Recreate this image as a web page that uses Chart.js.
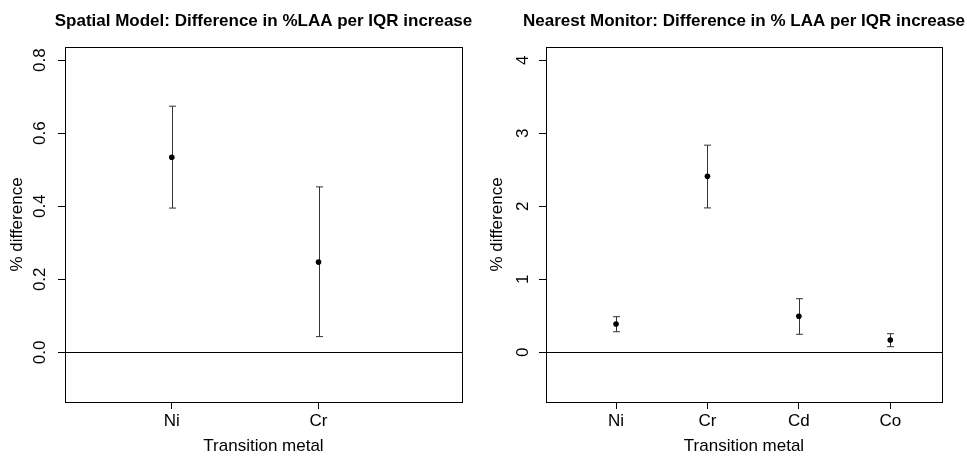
<!DOCTYPE html>
<html>
<head>
<meta charset="utf-8">
<script src="https://cdn.jsdelivr.net/npm/chart.js@4/dist/chart.umd.min.js"></script>
<style>
  html, body { margin: 0; padding: 0; background: #fff; }
  #wrap { position: relative; width: 967px; height: 457px; }
  canvas { position: absolute; top: 0; }
</style>
</head>
<body>
<div id="wrap">
  <canvas id="spatial" width="483" height="457" style="left:0"></canvas>
  <canvas id="monitor" width="484" height="457" style="left:483px"></canvas>
</div>
<script>
// Spatial model panel
const spatialMetals = ['Ni', 'Cr'];
const spatialEst = [0.534, 0.247];
const spatialLower = [0.395, 0.043];
const spatialUpper = [0.674, 0.453];
const spatialYTicks = [0, 0.2, 0.4, 0.6, 0.8];

// Nearest monitor panel
const monitorMetals = ['Ni', 'Cr', 'Cd', 'Co'];
const monitorEst = [0.388, 2.41, 0.493, 0.168];
const monitorLower = [0.282, 1.977, 0.247, 0.077];
const monitorUpper = [0.488, 2.836, 0.734, 0.255];
const monitorYTicks = [0, 1, 2, 3, 4];

const FONT = "'Liberation Sans', Arial, Helvetica, sans-serif";
Chart.defaults.font.family = FONT;
Chart.defaults.font.size = 17;
Chart.defaults.color = '#000';

// error bars with small caps, drawn under the points
const errorBars = {
  id: 'errorBars',
  beforeDatasetsDraw(chart, args, opts) {
    const { ctx, scales: { x, y } } = chart;
    ctx.save();
    ctx.strokeStyle = '#333';
    ctx.lineWidth = 1;
    opts.lower.forEach((lo, i) => {
      const px = Math.round(x.getPixelForValue(i + 1)) + 0.5;
      const y1 = y.getPixelForValue(lo);
      const y2 = y.getPixelForValue(opts.upper[i]);
      ctx.beginPath();
      ctx.moveTo(px, y1);
      ctx.lineTo(px, y2);
      ctx.moveTo(px - 3.5, y1);
      ctx.lineTo(px + 3.5, y1);
      ctx.moveTo(px - 3.5, y2);
      ctx.lineTo(px + 3.5, y2);
      ctx.stroke();
    });
    ctx.restore();
  }
};

// R-style box, zero reference line and panel title
const frame = {
  id: 'frame',
  afterDraw(chart, args, opts) {
    const { ctx, chartArea: a, scales: { y } } = chart;
    ctx.save();
    ctx.strokeStyle = '#000';
    ctx.lineWidth = 1;
    const y0 = Math.round(y.getPixelForValue(0)) + 0.5;
    ctx.beginPath();
    ctx.moveTo(a.left, y0);
    ctx.lineTo(a.right, y0);
    ctx.stroke();
    ctx.strokeRect(Math.round(a.left) + 0.5, Math.round(a.top) + 0.5,
      Math.round(a.right - a.left), Math.round(a.bottom - a.top));
    ctx.fillStyle = '#000';
    ctx.font = 'bold 17px ' + FONT;
    ctx.textAlign = 'center';
    ctx.textBaseline = 'middle';
    ctx.fillText(opts.text, (a.left + a.right) / 2, 21);
    ctx.restore();
  }
};

function makePanel(id, title, metals, est, lower, upper, yTicks, cfg) {
  const points = est.map((v, i) => ({ x: i + 1, y: v }));
  return new Chart(document.getElementById(id), {
    type: 'scatter',
    data: {
      datasets: [{
        data: points,
        pointRadius: 2.8,
        pointHoverRadius: 2.8,
        backgroundColor: '#000',
        borderWidth: 0
      }]
    },
    options: {
      responsive: false,
      animation: false,
      layout: { padding: { top: 47, right: cfg.padRight, bottom: 0, left: 0 } },
      plugins: {
        legend: { display: false },
        tooltip: { enabled: false },
        errorBars: { lower, upper },
        frame: { text: title }
      },
      scales: {
        x: {
          type: 'linear',
          min: cfg.xMin,
          max: cfg.xMax,
          afterBuildTicks: s => { s.ticks = metals.map((m, i) => ({ value: i + 1 })); },
          afterFit: s => { s.height = 55; },
          ticks: {
            autoSkip: false,
            maxRotation: 0,
            padding: 2,
            callback: v => metals[v - 1]
          },
          grid: { drawOnChartArea: false, drawTicks: true, tickLength: 7, tickColor: '#000' },
          border: { display: false },
          title: { display: true, text: 'Transition metal', padding: { top: 0, bottom: 0 } }
        },
        y: {
          min: cfg.yMin,
          max: cfg.yMax,
          afterBuildTicks: s => { s.ticks = yTicks.map(v => ({ value: v })); },
          afterFit: s => { s.width = cfg.yWidth; },
          ticks: {
            autoSkip: false,
            minRotation: 90,
            maxRotation: 90,
            crossAlign: 'center',
            padding: cfg.tickPad,
            callback: v => v.toFixed(cfg.decimals)
          },
          grid: { drawOnChartArea: false, drawTicks: true, tickLength: 7, tickColor: '#000' },
          border: { display: false },
          title: { display: true, text: '% difference', padding: { top: cfg.titlePad, bottom: 0 } }
        }
      }
    },
    plugins: [errorBars, frame]
  });
}

makePanel('spatial', 'Spatial Model: Difference in %LAA per IQR increase',
  spatialMetals, spatialEst, spatialLower, spatialUpper, spatialYTicks,
  { xMin: 0.272, xMax: 2.978, yMin: -0.136, yMax: 0.836, padRight: 21,
    yWidth: 65, tickPad: 5.5, titlePad: 7, decimals: 1 });

makePanel('monitor', 'Nearest Monitor: Difference in % LAA per IQR increase',
  monitorMetals, monitorEst, monitorLower, monitorUpper, monitorYTicks,
  { xMin: 0.234, xMax: 4.566, yMin: -0.68, yMax: 4.18, padRight: 25,
    yWidth: 63, tickPad: 10.5, titlePad: 4, decimals: 0 });
</script>
</body>
</html>
